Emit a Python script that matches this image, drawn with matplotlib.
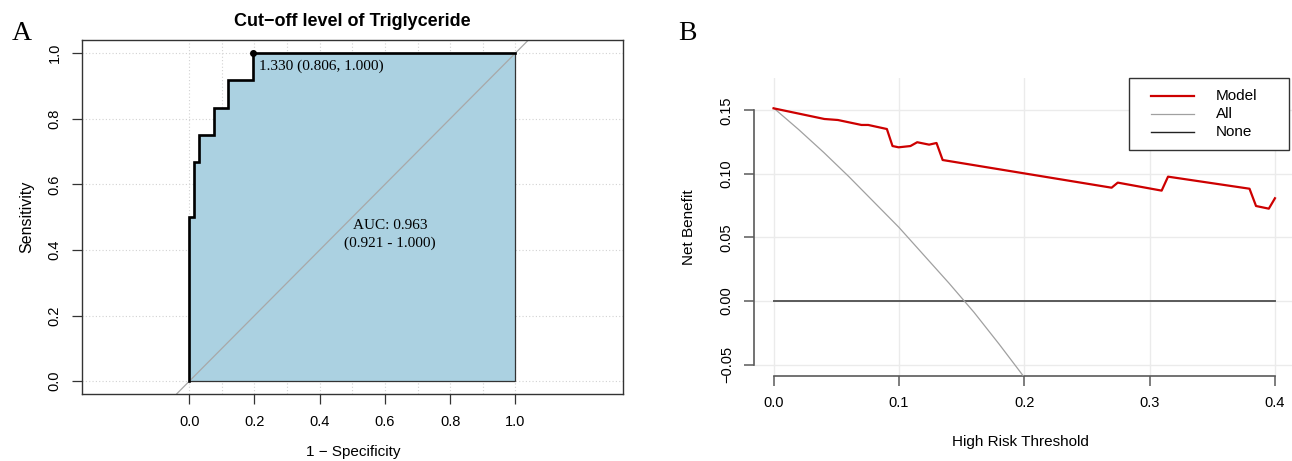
import matplotlib
matplotlib.use("Agg")
import matplotlib.pyplot as plt
from matplotlib.lines import Line2D
from matplotlib.patches import Rectangle, Polygon

W, H = 1292, 461

# ---- panel A: ROC curve ----
roc_fpr = [0.0, 0.0, 0.015, 0.015, 0.030, 0.030, 0.075, 0.075, 0.119, 0.119, 0.194, 0.194, 1.0]
roc_tpr = [0.0, 0.5, 0.5, 0.667, 0.667, 0.75, 0.75, 0.833, 0.833, 0.917, 0.917, 1.0, 1.0]
cut_fpr, cut_tpr = 0.194, 1.0
cut_label = "1.330 (0.806, 1.000)"
auc_label = "AUC: 0.963\n(0.921 - 1.000)"
roc_ticks = [0.0, 0.2, 0.4, 0.6, 0.8, 1.0]
roc_tick_labels = ["0.0", "0.2", "0.4", "0.6", "0.8", "1.0"]

# ---- panel B: decision curve ----
thr_model = [0.0, 0.0405, 0.0513, 0.0701, 0.0755, 0.0904, 0.0949, 0.0998, 0.1092, 0.1146,
             0.1241, 0.1300, 0.1349, 0.2697, 0.2746, 0.3096, 0.3147, 0.3797, 0.3849,
             0.3951, 0.4000]
nb_model = [0.1517, 0.1433, 0.1425, 0.1386, 0.1386, 0.1354, 0.1220, 0.1210, 0.1220, 0.1250,
            0.1231, 0.1244, 0.1110, 0.0892, 0.0932, 0.0869, 0.0979, 0.0884, 0.0748,
            0.0727, 0.0809]
thr_all = [0.0, 0.02, 0.04, 0.06, 0.08, 0.10, 0.12, 0.14, 0.16, 0.18, 0.20]
nb_all = [0.152, 0.135, 0.117, 0.098, 0.078, 0.058, 0.036, 0.014, -0.009, -0.034, -0.060]
thr_none = [0.0, 0.4]
nb_none = [0.0, 0.0]
dca_xticks = [0.0, 0.1, 0.2, 0.3, 0.4]
dca_xtick_labels = ["0.0", "0.1", "0.2", "0.3", "0.4"]
dca_yticks = [-0.05, 0.0, 0.05, 0.10, 0.15]
dca_ytick_labels = ["\u22120.05", "0.00", "0.05", "0.10", "0.15"]

sans = "Liberation Sans"
serif = "Liberation Serif"
plt.rcParams["font.family"] = sans


def fx(px):
    return px / W


def fy(py):
    return 1 - py / H


fig = plt.figure(figsize=(W / 100, H / 100), dpi=100)

# ================= A =================
ax = fig.add_axes([fx(82.3), fy(393.7), (623 - 82.3) / W, (393.7 - 40) / H])
ax.set_xlim(-0.328, 1.33)
ax.set_ylim(-0.038, 1.04)

for g in [i / 10 for i in range(11)]:
    ax.axvline(g, color="#d2d2d2", lw=0.8, ls=(0, (1, 2)), zorder=0)
for g in roc_ticks:
    ax.axhline(g, color="#d2d2d2", lw=0.8, ls=(0, (1, 2)), zorder=0)

poly = Polygon(list(zip(roc_fpr, roc_tpr)) + [(1.0, 0.0)], closed=True,
               facecolor="#abd1e1", edgecolor="#333333", lw=0.9, zorder=1)
ax.add_patch(poly)
ax.axline((0, 0), (1, 1), color="#a8a8a8", lw=0.9, zorder=2)
ax.plot(roc_fpr, roc_tpr, color="black", lw=1.9, zorder=3, solid_joinstyle="miter")
ax.plot([cut_fpr], [cut_tpr], "o", color="black", ms=4, zorder=4)
ax.text(cut_fpr + 0.021, cut_tpr - 0.039, cut_label, family=serif, fontsize=11,
        ha="left", va="center", zorder=5)
ax.text(0.616, 0.447, auc_label, family=serif, fontsize=11, ha="center", va="center",
        linespacing=1.45, zorder=5)

for s in ax.spines.values():
    s.set_color("#333333")
    s.set_linewidth(1.0)
ax.set_xticks(roc_ticks)
ax.set_xticklabels(roc_tick_labels)
ax.set_yticks(roc_ticks)
ax.set_yticklabels(roc_tick_labels)
ax.tick_params(direction="out", length=7, width=0.9, color="#333333", labelsize=10.5, pad=8)
for lab in ax.get_yticklabels():
    lab.set_rotation(90)
    lab.set_va("center")

fig.text(fx(352.5), fy(21.7), "Cut\u2212off level of Triglyceride", fontsize=13,
         fontweight="bold", ha="center", va="center")
fig.text(fx(353), fy(452), "1 \u2212 Specificity", fontsize=11, ha="center", va="center")
fig.text(fx(27), fy(216.8), "Sensitivity", fontsize=11.5, rotation=90, ha="center", va="center")
fig.text(fx(22), fy(34), "A", family=serif, fontsize=20, ha="center", va="center")

# ================= B =================
bx = fig.add_axes([fx(754), fy(375.7), (W - 754) / W, (375.7 - 77.7) / H])
bx.set_xlim(-0.0156, 0.4136)
bx.set_ylim(-0.0588, 0.1758)
bx.set_xticks(dca_xticks)
bx.set_xticklabels(dca_xtick_labels)
bx.set_yticks(dca_yticks)
bx.set_yticklabels(dca_ytick_labels)
bx.grid(True, color="#ebebeb", lw=1.0)
bx.set_axisbelow(True)

bx.plot(thr_none, nb_none, color="#5a5a5a", lw=1.4, zorder=3)
bx.plot(thr_all, nb_all, color="#a0a0a0", lw=0.9, zorder=3)
bx.plot(thr_model, nb_model, color="#cd0000", lw=1.6, zorder=4)

bx.spines["top"].set_visible(False)
bx.spines["right"].set_visible(False)
bx.spines["left"].set_bounds(-0.05, 0.15)
bx.spines["bottom"].set_bounds(0.0, 0.4)
for k in ("left", "bottom"):
    bx.spines[k].set_color("#5a5a5a")
    bx.spines[k].set_linewidth(1.2)
bx.tick_params(direction="out", length=7, width=1.1, color="#5a5a5a", labelsize=10.5, pad=7.5)
for lab in bx.get_yticklabels():
    lab.set_rotation(90)
    lab.set_va("center")

fig.text(fx(1020), fy(441.7), "High Risk Threshold", fontsize=11, ha="center", va="center")
fig.text(fx(689), fy(226.7), "Net Benefit", fontsize=11, rotation=90, ha="center", va="center")
fig.text(fx(687), fy(33.3), "B", family=serif, fontsize=20, ha="center", va="center")

# legend box
fig.add_artist(Rectangle((fx(1129), fy(150)), (1289 - 1129) / W, (150 - 78.3) / H,
                         transform=fig.transFigure, facecolor="white",
                         edgecolor="#333333", lw=1.0, zorder=10))
legend_items = [("Model", "#cd0000", 1.6), ("All", "#a0a0a0", 0.9), ("None", "#222222", 1.0)]
for (name, col, lw), py in zip(legend_items, [95.7, 114.3, 132.3]):
    fig.add_artist(Line2D([fx(1150.5), fx(1194.4)], [fy(py), fy(py)], color=col, lw=lw,
                          transform=fig.transFigure, zorder=11))
    fig.text(fx(1215.7), fy(py), name, fontsize=11, ha="left", va="center", zorder=11)

fig.savefig("out.png", dpi=100)
